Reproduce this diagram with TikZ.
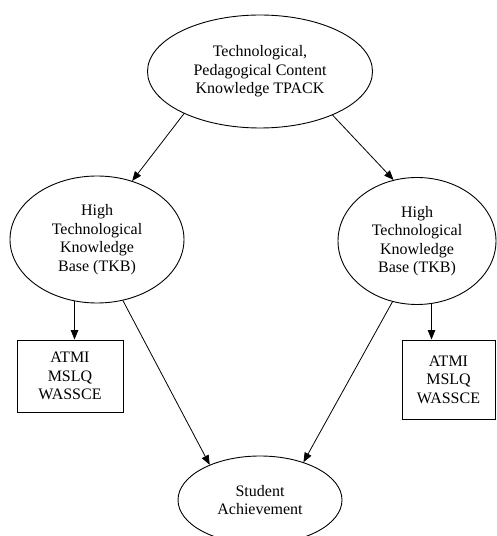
\documentclass[tikz,border=0pt]{standalone}
\usepackage{fontspec}
\setmainfont{Liberation Serif}
\usepackage{xcolor}
\usepackage{tikz}
\usetikzlibrary{arrows.meta,shapes.geometric,calc}
\tikzset{
  oval/.style={ellipse,draw=black,line width=0.9pt,inner sep=0pt,align=center,font=\fontsize{16}{18.5}\selectfont},
  infobox/.style={rectangle,draw=black,line width=0.9pt,inner sep=0pt,align=center,font=\fontsize{16}{18.5}\selectfont},
  arrow/.style={-{Triangle[length=9.5pt,width=7.5pt]},line width=0.8pt,color=black},
}
\begin{document}
\begin{tikzpicture}[x=1pt,y=1pt]
    \useasboundingbox (0,0) rectangle (497,536);
    \node[oval,minimum width=225,minimum height=113] (tpack) at (260,464.5) {Technological,\\Pedagogical Content\\Knowledge TPACK};
    \node[oval,minimum width=174,minimum height=127] (tkbl) at (97,296.5) {High\\Technological\\Knowledge\\Base (TKB)};
    \node[oval,minimum width=158,minimum height=127] (tkbr) at (417,295) {High\\Technological\\Knowledge\\Base (TKB)};
    \node[infobox,minimum width=106,minimum height=72] (instl) at (70,160) {ATMI\\MSLQ\\WASSCE};
    \node[infobox,minimum width=93,minimum height=79] (instr) at (448.5,156.5) {ATMI\\MSLQ\\WASSCE};
    \node[oval,minimum width=164,minimum height=88] (ach) at (260,36) {Student\\Achievement};
    \draw[arrow] (tpack.209.5) -- (tkbl.59.4);
    \draw[arrow] (tpack.329.4) -- (tkbr.111.6);
    \draw[arrow] (tkbl.250) -- (tkbl.250 |- instl.north);
    \draw[arrow] (tkbr.283) -- (tkbr.283 |- instr.north);
    \draw[arrow] (tkbl.293) -- (ach.145);
    \draw[arrow] (tkbr.248) -- (ach.41.6);
  \end{tikzpicture}
\end{document}
